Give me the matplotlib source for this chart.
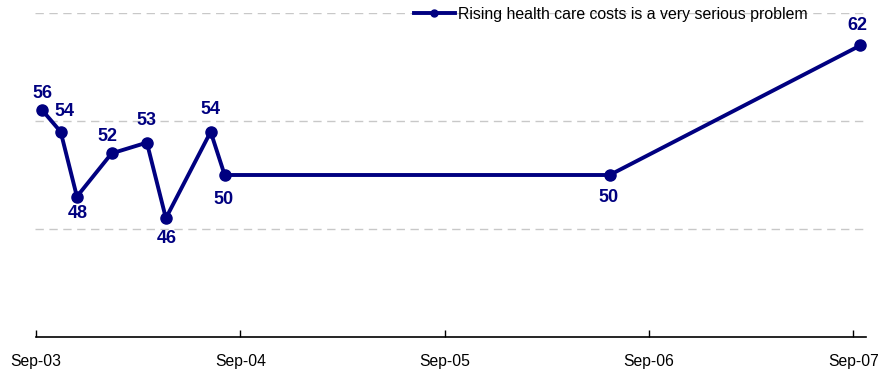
import matplotlib
matplotlib.use("Agg")
import matplotlib.pyplot as plt
import matplotlib.dates as mdates
from datetime import datetime

plt.rcParams['font.family'] = ['Liberation Sans', 'DejaVu Sans']

# survey dates and percentages
dates = ["2003-09-13", "2003-10-16", "2003-11-14", "2004-01-15", "2004-03-18",
         "2004-04-21", "2004-07-10", "2004-08-04", "2006-06-23", "2007-09-14"]
values = [56, 54, 48, 52, 53, 46, 54, 50, 50, 62]
series_name = "Rising health care costs is a very serious problem"
tick_years = [2003, 2004, 2005, 2006, 2007]

# label offsets in pixels (dx, dy)
offsets = [(0, 17), (4, 20), (1, -17), (-4, 17), (0, 22), (1, -20),
           (0, 22), (-1, -24), (-1, -23), (-3, 20)]

x = [datetime.strptime(d, "%Y-%m-%d") for d in dates]
navy = "#000080"

fig = plt.figure(figsize=(8.79, 3.70), dpi=100)
ax = fig.add_axes([35.5 / 879, 33 / 370, (866 - 35.5) / 879, (337 - 13) / 370])

ax.plot(x, values, color=navy, lw=2.8, marker="o", ms=8, label=series_name,
        solid_joinstyle="round", zorder=3)

for xi, v, (dx, dy) in zip(x, values, offsets):
    ax.annotate(str(v), (xi, v), xytext=(dx, dy), textcoords="offset pixels",
                ha="center", va="center", fontsize=13, fontweight="bold",
                color=navy)

ax.set_ylim(35, 65)
ax.set_yticks([45, 55, 65])
ax.yaxis.grid(True, color="#c8c8c8", linestyle=(0, (6, 4)), lw=1)
ax.set_xlim(datetime(2003, 9, 1), datetime(2007, 9, 24))
ax.set_xticks([datetime(y, 9, 1) for y in tick_years])
ax.xaxis.set_major_formatter(mdates.DateFormatter("%b-%y"))
ax.tick_params(axis="x", direction="in", length=5, width=1, pad=12, labelsize=11.3)
ax.tick_params(axis="y", left=False, labelleft=False)

for s in ["top", "right", "left"]:
    ax.spines[s].set_visible(False)
ax.spines["bottom"].set_linewidth(1.2)

leg = ax.legend(loc="center left", bbox_to_anchor=(406 / 879, 1 - 14 / 370),
                bbox_transform=fig.transFigure, frameon=False, fontsize=11.4,
                handlelength=2.6, handletextpad=0.2, borderpad=0)
for h in leg.legend_handles:
    h.set_markersize(5)

fig.savefig("out.png", dpi=100)
